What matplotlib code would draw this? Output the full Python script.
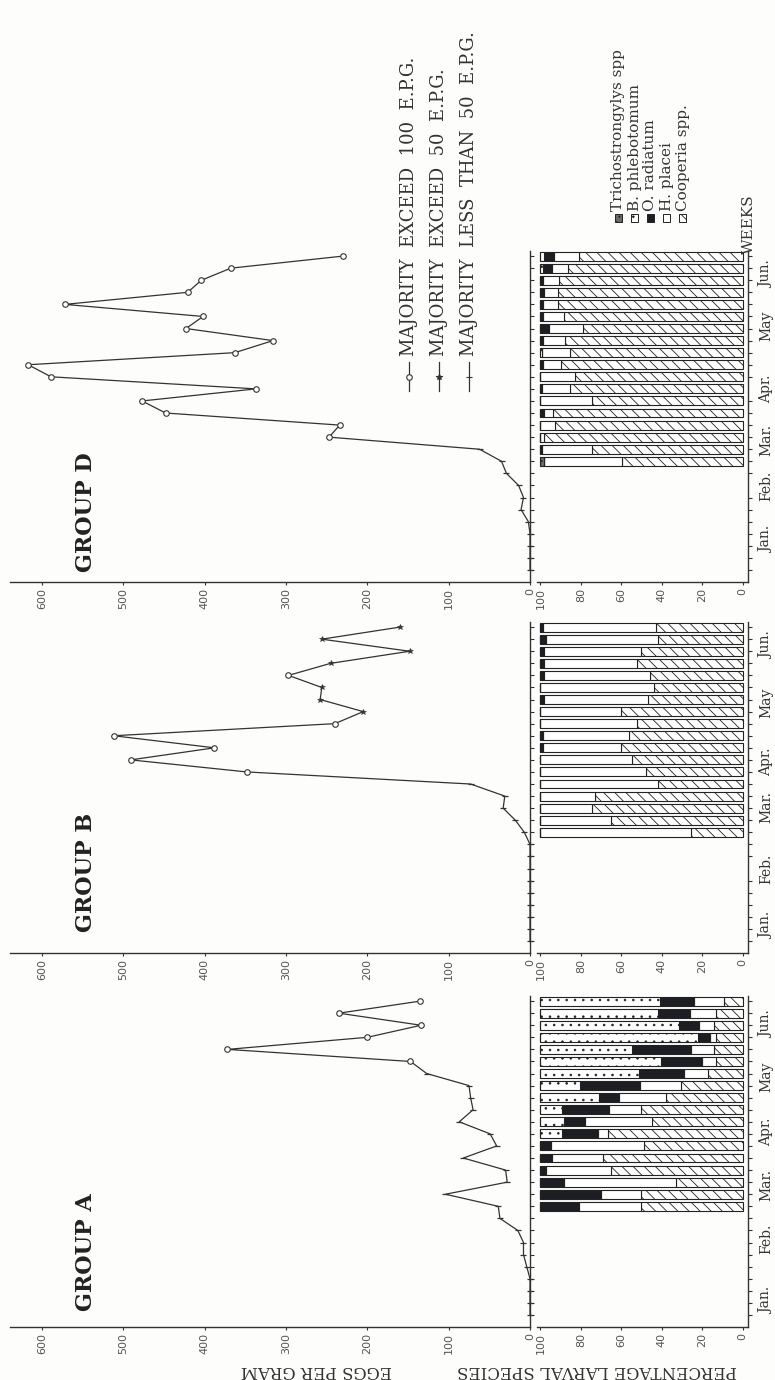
import numpy as np
import matplotlib
matplotlib.use('Agg')
import matplotlib.pyplot as plt
from matplotlib.patches import Rectangle
from matplotlib.lines import Line2D

W, H = 775, 1380
INK = '#333333'

weeks = np.arange(1, 28)
bar_weeks = np.arange(10, 28)
months = ['Jan.', 'Feb.', 'Mar.', 'Apr.', 'May', 'Jun.']
group_names = ['GROUP A', 'GROUP B', 'GROUP D']

# eggs per gram, weeks 1..27
epg_a = [0, 0, 0, 0, 4, 8, 8, 15, 37, 39, 104, 28, 30, 82, 41, 49, 87, 70,
         73, 75, 127, 147, 372, 200, 134, 235, 135]
epg_b = [0, 0, 0, 0, 0, 0, 0, 0, 0, 7, 18, 33, 31, 73, 348, 491, 388, 512,
         240, 205, 258, 256, 297, 245, 148, 256, 160]
epg_d = [0, 0, 0, 0, 2, 11, 8, 14, 29, 35, 62, 247, 234, 448, 477, 337, 589,
         617, 363, 316, 423, 402, 572, 421, 404, 368, 230]

# O = majority exceed 100, F = exceed 50, L = less than 50
mark_a = ['L'] * 21 + ['O'] * 6
mark_b = ['L'] * 14 + ['O'] * 5 + ['F'] * 3 + ['O'] + ['F'] * 4
mark_d = ['L'] * 11 + ['O'] * 16

# percentage larval species, weeks 10..27
coop_a = [50, 50, 33, 65, 69, 49, 66.5, 45, 50, 38, 30.5, 17, 13, 14, 13, 14, 13, 9]
plac_a = [31, 20, 55.5, 32, 25.5, 46, 5, 33, 16, 23, 20, 12, 7, 11.5, 3, 7.5, 13, 15]
rad_a = [19, 30, 11.5, 3, 5.5, 5, 18, 10.5, 23.5, 10, 30, 22, 20.5, 29, 6, 10, 16, 17]
phleb_a = [0, 0, 0, 0, 0, 0, 10.5, 11.5, 10.5, 29, 19.5, 49, 59.5, 45.5, 78, 68.5, 58, 59]
trich_a = [0] * 18

coop_b = [25.5, 65, 74.5, 73, 42, 48, 54.5, 60, 56, 52, 60, 47, 44, 46, 52, 50, 42, 43]
rad_b = [0, 0, 0, 0, 0, 0, 0, 1.5, 1.5, 0, 0, 2, 0, 2, 2, 2, 3, 1.5]
plac_b = [74.5, 35, 25.5, 27, 58, 52, 45.5, 38.5, 42.5, 48, 40, 51, 56, 52, 46, 48, 55, 55.5]
phleb_b = [0] * 18
trich_b = [0] * 18

coop_d = [59.5, 74.5, 98, 93, 94, 74.5, 85.5, 83, 90, 85.5, 88, 79, 88.5, 91.5, 91.5, 91, 86.5, 81]
plac_d = [38.5, 24.5, 2, 7, 4, 25.5, 13.5, 17, 8.5, 13.5, 10.5, 17, 10, 7, 6.5, 7.5, 8, 12.5]
rad_d = [0, 1, 0, 0, 2, 0, 1, 0, 1.5, 0, 1.5, 4, 1.5, 1.5, 2, 1.5, 4, 4.5]
phleb_d = [0, 0, 0, 0, 0, 0, 0, 0, 0, 1, 0, 0, 0, 0, 0, 0, 1.5, 2]
trich_d = [2] + [0] * 17

month_pos_a = [2.2, 7.3, 11.8, 16.2, 20.7, 25.1]
month_pos_b = [2.3, 7.0, 12.1, 15.8, 20.7, 25.5]
month_pos_d = [3.5, 8.0, 11.8, 16.0, 21.2, 25.5]

groups = [
    (epg_a, mark_a, [coop_a, plac_a, rad_a, phleb_a, trich_a], month_pos_a, 1327, 6.2),
    (epg_b, mark_b, [coop_b, plac_b, rad_b, phleb_b, trich_b], month_pos_b, 953, 6.7),
    (epg_d, mark_d, [coop_d, plac_d, rad_d, phleb_d, trich_d], month_pos_d, 582, 5.8),
]

# order of stacking from 0: Cooperia, H. placei, O. radiatum, B. phlebotomum, Trichostrongylus
bar_style = [
    dict(facecolor='white', hatch='\\\\\\'),
    dict(facecolor='white'),
    dict(facecolor='#1c1e24'),
    dict(facecolor='white', hatch='..'),
    dict(facecolor='#6a6a6a', hatch='...'),
]

plt.rcParams['font.family'] = ['DejaVu Serif']
plt.rcParams['hatch.linewidth'] = 0.6
plt.rcParams['axes.edgecolor'] = INK
plt.rcParams['axes.linewidth'] = 1.0

fig = plt.figure(figsize=(W / 100, H / 100), dpi=100)
fig.patch.set_facecolor('#fdfdfb')


def add_axes_px(left, right, bottom, top):
    return fig.add_axes([left / W, 1 - bottom / H, (right - left) / W, (bottom - top) / H])


def ftext(x, y, s, **kw):
    fig.text(x / W, 1 - y / H, s, **kw)


WK = 12.07
YTOP = 27.4

for name, (epg, marks, parts, mpos, yb, gy) in zip(group_names, groups):
    top = yb - YTOP * WK
    # eggs per gram panel (time runs up the page, counts run leftwards)
    ax = add_axes_px(10, 530, yb, top)
    ax.set_facecolor('none')
    ax.set_xlim((530 - 10) / 0.8133, 0)
    ax.set_ylim(0, YTOP)
    ax.spines['top'].set_visible(False)
    ax.spines['left'].set_visible(False)
    ax.yaxis.tick_right()
    ax.set_yticks([])
    ax.set_yticks(weeks, minor=True)
    ax.tick_params(axis='y', which='minor', direction='out', length=3, width=0.8, color=INK)
    ax.set_xticks(range(0, 700, 100))
    ax.tick_params(axis='x', direction='out', length=2.5, width=0.8, color=INK, pad=1.5,
                   labelrotation=90, labelsize=8, labelcolor='#555555')
    for lab in ax.get_xticklabels():
        lab.set_family('DejaVu Sans')
    e = np.array(epg, dtype=float)
    m = np.array(marks)
    ax.plot(e, weeks, '-', color=INK, lw=0.9, clip_on=False, zorder=3)
    ax.plot(e[m == 'L'], weeks[m == 'L'], ls='none', marker='_', ms=5, mew=0.9,
            color=INK, clip_on=False, zorder=4)
    ax.plot(e[m == 'F'], weeks[m == 'F'], ls='none', marker='*', ms=4, mew=0.4,
            color=INK, clip_on=False, zorder=4)
    ax.plot(e[m == 'O'], weeks[m == 'O'], ls='none', marker='o', ms=4, mew=0.8,
            mfc='white', mec=INK, clip_on=False, zorder=4)
    ax.text(546, gy, name, rotation=90, ha='center', va='center',
            fontsize=16, fontweight='bold', color='#222222')

    # percentage larval species panel
    bx = add_axes_px(537, 748, yb, top)
    bx.set_facecolor('none')
    bx.set_xlim(101.7, -2.7)
    bx.set_ylim(0, YTOP)
    bx.spines['top'].set_visible(False)
    bx.spines['left'].set_visible(False)
    left = np.zeros(len(bar_weeks))
    for vals, st in zip(parts, bar_style):
        v = np.array(vals, dtype=float)
        bx.barh(bar_weeks, v, left=left, height=0.74, edgecolor='#222222',
                linewidth=0.8, **st)
        left += v
    bx.yaxis.tick_right()
    bx.set_yticks(mpos)
    bx.set_yticklabels(months)
    bx.set_yticks(weeks, minor=True)
    bx.tick_params(axis='y', which='major', length=0, pad=8, labelrotation=90,
                   labelsize=10, labelcolor='#333333')
    bx.tick_params(axis='y', which='minor', direction='out', length=3, width=0.8, color=INK)
    for lab in bx.get_yticklabels():
        lab.set_verticalalignment('center')
    bx.set_xticks(range(0, 101, 20))
    bx.tick_params(axis='x', direction='out', length=2.5, width=0.8, color=INK, pad=1.5,
                   labelrotation=90, labelsize=8, labelcolor='#555555')
    for lab in bx.get_xticklabels():
        lab.set_family('DejaVu Sans')

# axis titles (upside down, as in the rotated original)
ftext(316, 1371, 'EGGS PER GRAM', rotation=180, ha='center', va='center',
      fontsize=12, color=INK)
ftext(597, 1370, 'PERCENTAGE LARVAL SPECIES', rotation=180, ha='center', va='center',
      fontsize=12, color=INK)
ftext(749, 224, 'WEEKS', rotation=90, ha='center', va='center', fontsize=11, color=INK)

# line legend
line_labels = ['MAJORITY  EXCEED  100  E.P.G.', 'MAJORITY  EXCEED  50  E.P.G.',
               'MAJORITY  LESS  THAN  50  E.P.G.']
line_marks = [dict(marker='o', ms=4, mfc='white'), dict(marker='*', ms=4, mfc=INK),
              dict(marker='_', ms=5)]
for x, lab, mk in zip([409, 439, 469], line_labels, line_marks):
    fig.add_artist(Line2D([x / W, x / W], [1 - 362 / H, 1 - 391 / H], color=INK, lw=0.9))
    fig.add_artist(Line2D([x / W], [1 - 377 / H], color=INK, ls='none', mec=INK, mew=0.8, **mk))
    ftext(x, 356, lab, rotation=90, ha='center', va='bottom', fontsize=13, color=INK)

# species legend
species = ['Trichostrongylys spp', 'B. phlebotomum', 'O. radiatum', 'H. placei', 'Cooperia spp.']
species_style = [bar_style[4], bar_style[3], bar_style[2], bar_style[1], bar_style[0]]
for x, lab, st in zip([618, 634.5, 650.5, 666.5, 682.5], species, species_style):
    fig.add_artist(Rectangle(((x - 3.5) / W, 1 - 222 / H), 7 / W, 8 / H,
                             edgecolor='#222222', linewidth=0.7, **st))
    ftext(x, 211, lab, rotation=90, ha='center', va='bottom', fontsize=11, color=INK)

fig.savefig('out.png', dpi=100, facecolor=fig.get_facecolor())
